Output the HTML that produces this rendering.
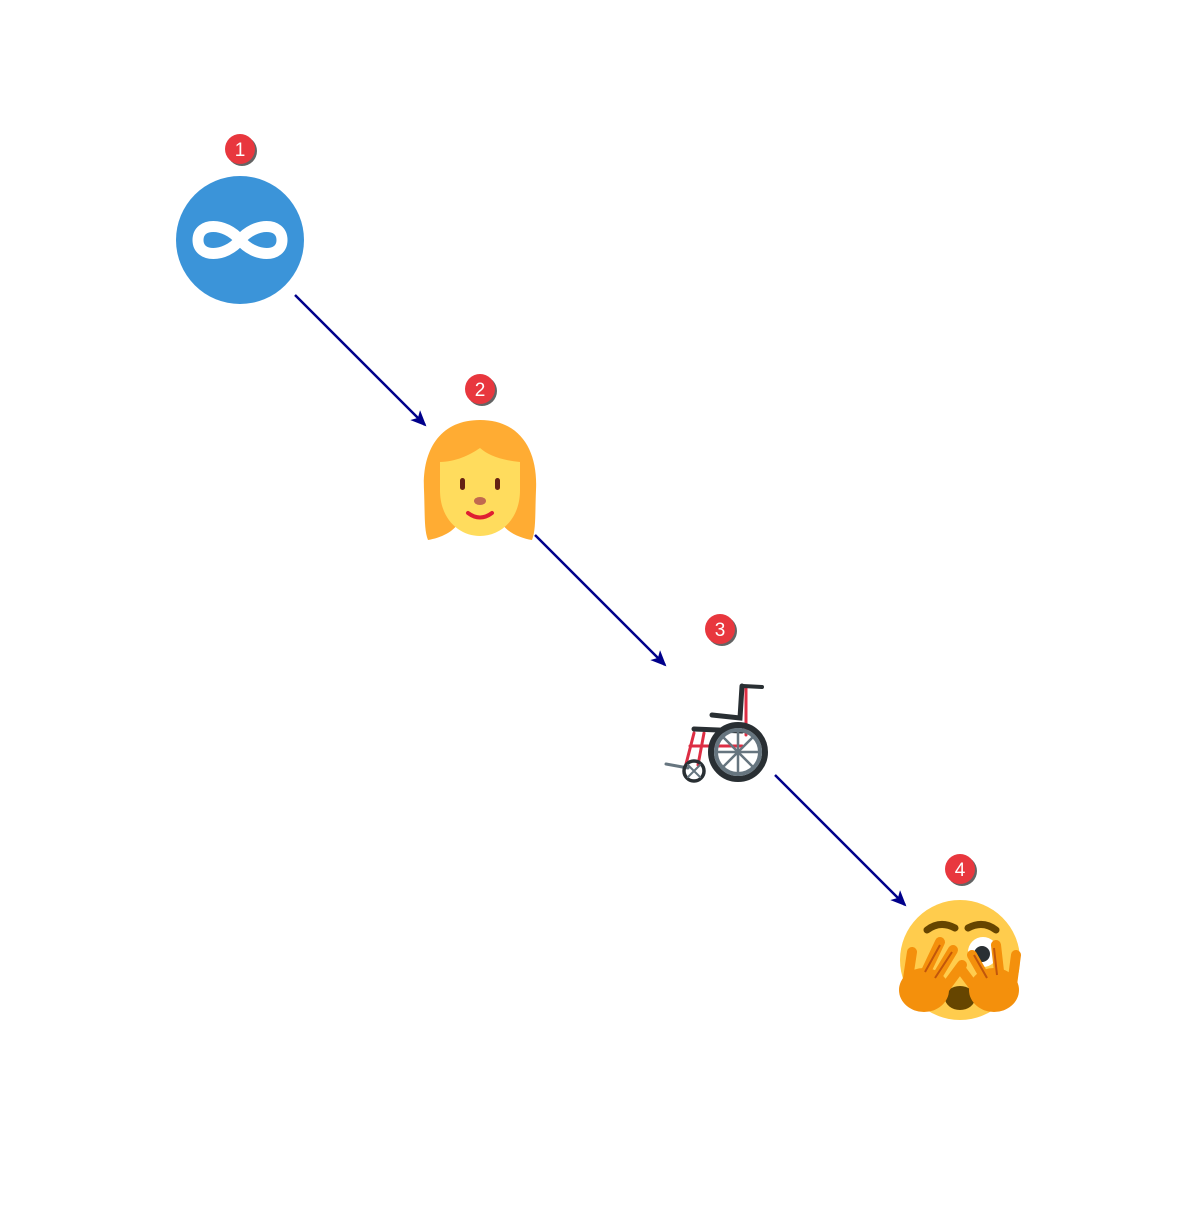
<!DOCTYPE html>
<html><head><style>html,body{margin:0;padding:0;background:#fff}</style></head><body>
<svg width="1200" height="1200" viewBox="0 0 1200 1200" xmlns="http://www.w3.org/2000/svg">
<defs>
<marker id="ah" markerWidth="16" markerHeight="14" refX="14" refY="7" orient="auto" markerUnits="userSpaceOnUse"><path d="M0,0 L16,7 L0,14 L4,7z" fill="#00008B"/></marker>
</defs>
<g stroke="#00008B" stroke-width="2.5" fill="none">
<line x1="295" y1="295" x2="425" y2="425" marker-end="url(#ah)"/>
<line x1="535" y1="535" x2="665" y2="665" marker-end="url(#ah)"/>
<line x1="775" y1="775" x2="905" y2="905" marker-end="url(#ah)"/>
</g>
<!-- node 1 -->
<circle cx="240" cy="240" r="64" fill="#3B94D9"/>
<path d="M240,240 C225,222 198,222 198,240 C198,258 225,258 240,240 C255,222 282,222 282,240 C282,258 255,258 240,240Z" fill="none" stroke="#fff" stroke-width="11"/>
<!-- node 2 -->
<path d="M480,420 C440,420 422,450 424,490 C425,515 424,530 428,540 C440,538 455,532 460,520 L500,520 C505,532 520,538 532,540 C536,530 535,515 536,490 C538,450 520,420 480,420Z" fill="#FFAC33"/>
<path d="M480,448 C470,455 455,462 440,462 L440,490 C440,520 460,536 480,536 C500,536 520,520 520,490 L520,462 C500,460 488,455 480,448Z" fill="#FFDC5D"/>
<rect x="460" y="478" width="5" height="12" rx="2.5" fill="#662113"/>
<rect x="495" y="478" width="5" height="12" rx="2.5" fill="#662113"/>
<ellipse cx="480" cy="501" rx="6" ry="4" fill="#C1694F"/>
<path d="M468,513 Q480,522 492,513" stroke="#DF1F32" stroke-width="4" fill="none" stroke-linecap="round"/>
<!-- node 3 -->
<g stroke-linecap="round" fill="none">
<path d="M746,688 L746,735 M694,733 L685,768 M704,733 L698,765 M690,746 L742,746" stroke="#DD2E44" stroke-width="3"/>
<path d="M743,686 L762,687" stroke="#292F33" stroke-width="4"/>
<path d="M742,686 L740,718 L712,715" stroke="#292F33" stroke-width="5"/>
<path d="M694,729 L742,731" stroke="#292F33" stroke-width="5"/>
<path d="M666,764 L688,768" stroke="#66757F" stroke-width="3"/>
<circle cx="738" cy="752" r="27" stroke="#292F33" stroke-width="6"/>
<circle cx="738" cy="752" r="22" stroke="#66757F" stroke-width="4"/>
<path d="M738,730 L738,774 M716,752 L760,752 M722,736 L754,768 M754,736 L722,768" stroke="#66757F" stroke-width="2.5"/>
<circle cx="694" cy="771" r="10" stroke="#292F33" stroke-width="3.5"/>
<path d="M688,765 L700,777 M700,765 L688,777" stroke="#66757F" stroke-width="2"/>
</g>
<!-- node 4 -->
<circle cx="960" cy="960" r="60" fill="#FFCC4D"/>
<path d="M927,930 Q940,920 955,928 M968,928 Q983,920 996,930" stroke="#664500" stroke-width="7" fill="none" stroke-linecap="round"/>
<circle cx="983" cy="952" r="15" fill="#fff"/>
<circle cx="982" cy="954" r="8" fill="#292F33"/>
<ellipse cx="960" cy="998" rx="15" ry="12" fill="#664500"/>
<g stroke="#F4900C" stroke-width="10" stroke-linecap="round">
<ellipse cx="924" cy="990" rx="25" ry="22" fill="#F4900C" stroke="none"/>
<path d="M907,985 L912,952 M922,980 L940,942 M932,985 L953,950 M942,992 L962,965"/>
<ellipse cx="994" cy="990" rx="25" ry="22" fill="#F4900C" stroke="none"/>
<path d="M1012,985 L1016,955 M1000,980 L996,945 M988,983 L972,955 M978,992 L960,968"/>
</g>
<g stroke="#C1560B" stroke-width="2" fill="none"><path d="M925,972 L940,945 M935,978 L952,952 M997,975 L994,948 M987,978 L974,955"/></g>
<!-- badges -->
<g font-family="Liberation Sans, sans-serif" font-size="19" fill="#fff" text-anchor="middle">
<g><circle cx="242" cy="151" r="15" fill="#222" opacity="0.7"/><circle cx="240" cy="149" r="15" fill="#E8373E"/><text x="240" y="156">1</text></g>
<g><circle cx="482" cy="391" r="15" fill="#222" opacity="0.7"/><circle cx="480" cy="389" r="15" fill="#E8373E"/><text x="480" y="396">2</text></g>
<g><circle cx="722" cy="631" r="15" fill="#222" opacity="0.7"/><circle cx="720" cy="629" r="15" fill="#E8373E"/><text x="720" y="636">3</text></g>
<g><circle cx="962" cy="871" r="15" fill="#222" opacity="0.7"/><circle cx="960" cy="869" r="15" fill="#E8373E"/><text x="960" y="876">4</text></g>
</g>
</svg>
</body></html>
